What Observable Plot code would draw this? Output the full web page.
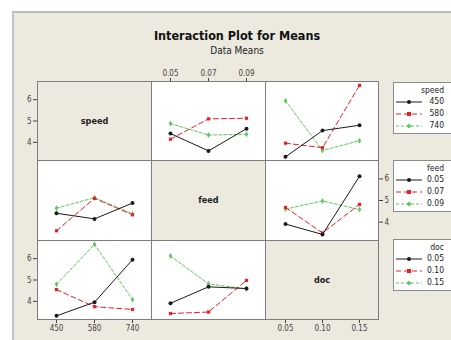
<!DOCTYPE html>
<html><head><meta charset="utf-8">
<script src="https://cdn.jsdelivr.net/npm/d3@7"></script>
<script src="https://cdn.jsdelivr.net/npm/@observablehq/plot@0.6"></script>
<style>
body{margin:0;background:#fff;width:451px;height:340px;overflow:hidden;position:relative;font-family:"DejaVu Sans Condensed","DejaVu Sans",sans-serif;font-stretch:condensed;}
#bg{position:absolute;left:12px;top:11px;right:0;bottom:0;background:#ece9df;border-top:2px solid #b8b8b8;border-left:2px solid #c4c4c4;}
.abs{position:absolute;}
#title{left:237px;top:28px;transform:translateX(-50%);font-weight:bold;font-size:12.5px;color:#111;white-space:nowrap;}
#subtitle{left:237px;top:45px;transform:translateX(-50%);font-size:10px;color:#222;white-space:nowrap;}
.leg{position:absolute;left:393px;width:80px;height:50px;background:#fff;border:1px solid #8c8c8c;font-size:8.5px;color:#222;}
.leg .t{position:absolute;right:30px;top:2px;}
.leg .row{position:absolute;left:0;height:12px;width:80px;}
.leg .row span{position:absolute;right:30px;top:0;}
.leg .row svg{position:absolute;left:2px;top:1px;}
</style></head>
<body>
<div id="bg"></div>
<div id="title" class="abs">Interaction Plot for Means</div>
<div id="subtitle" class="abs">Data Means</div>
<div id="panels"></div>
<div id="legends"></div>
<script>
// factor names and levels
const factors = ["speed", "feed", "doc"];
const speedLevels = ["450", "580", "740"];
const feedLevels = ["0.05", "0.07", "0.09"];
const docLevels = ["0.05", "0.10", "0.15"];
// two-way means: rows = first factor level, columns = second factor level
const speedByFeed = [[4.41, 3.60, 4.64], [4.15, 5.10, 5.13], [4.88, 4.34, 4.38]];
const speedByDoc = [[3.32, 4.55, 4.80], [3.96, 3.75, 6.67], [5.95, 3.62, 4.08]];
const feedByDoc = [[3.91, 3.43, 6.12], [4.68, 3.50, 4.82], [4.60, 4.98, 4.58]];
const yTicks = [4, 5, 6];

const levels = {speed: speedLevels, feed: feedLevels, doc: docLevels};
const tables = {"speed|feed": speedByFeed, "speed|doc": speedByDoc, "feed|doc": feedByDoc};
function mean(a, ia, b, ib) {
  if (tables[a + "|" + b]) return tables[a + "|" + b][ia][ib];
  return tables[b + "|" + a][ib][ia];
}
const colors = ["#1a1a1a", "#ee1c24", "#5cc85c"];
const dashes = ["none", "5,3", "3,2"];
const symbols = ["circle", "square", "diamond"];
const beige = "#ece9df";
const font = '"DejaVu Sans Condensed","DejaVu Sans",sans-serif';

const colX = [37, 151, 265], colW = [114, 114, 113];
const rowY = [81, 160, 240], rowH = [79, 80, 79];

const host = document.getElementById("panels");
factors.forEach((rowF, r) => {
  factors.forEach((colF, c) => {
    const diag = r === c;
    const ml = (c === 0 && r !== 1) ? 30 : 0;
    const mr = (c === 2 && r === 1) ? 30 : 0;
    const mt = (r === 0 && c === 1) ? 22 : 0;
    const mb = (r === 2 && c !== 1) ? 22 : 0;
    const showX = (r === 0 && c === 1) || (r === 2 && c !== 1);
    const showY = (c === 0 && r !== 1) || (c === 2 && r === 1);
    const data = [];
    if (!diag) {
      levels[rowF].forEach((lv, i) => {
        levels[colF].forEach((xv, j) => {
          data.push({line: i, level: lv, x: xv, y: mean(rowF, i, colF, j)});
        });
      });
    }
    const marks = [Plot.frame({fill: diag ? beige : "white", stroke: "#7d7d7d", strokeWidth: 1})];
    if (diag) {
      marks.push(Plot.text([rowF], {text: d => d, frameAnchor: "middle", fontWeight: "bold", fontSize: 9, fill: "#222"}));
    } else {
      [2, 1, 0].forEach(i => {
        const d = data.filter(e => e.line === i);
        marks.push(Plot.line(d, {x: "x", y: "y", stroke: colors[i], strokeWidth: 1, strokeDasharray: dashes[i]}));
        marks.push(Plot.dot(d, {x: "x", y: "y", fill: colors[i], r: i === 0 ? 2 : 1.8, symbol: symbols[i]}));
      });
    }
    const svg = Plot.plot({
      width: colW[c] + ml + mr,
      height: rowH[r] + mt + mb,
      marginLeft: ml, marginRight: mr, marginTop: mt, marginBottom: mb,
      style: {background: "transparent", fontSize: "8px", fontFamily: font, color: "#444", overflow: "visible"},
      x: {type: "point", domain: levels[colF], padding: 0.5, axis: showX ? (r === 0 ? "top" : "bottom") : null, tickSize: 4, tickPadding: 2, label: null},
      y: {domain: [3.15, 6.85], axis: showY ? (c === 0 ? "left" : "right") : null, ticks: yTicks, tickFormat: "d", tickSize: 4, tickPadding: 2, label: null},
      marks
    });
    svg.style.position = "absolute";
    svg.style.left = (colX[c] - ml) + "px";
    svg.style.top = (rowY[r] - mt) + "px";
    host.appendChild(svg);
  });
});

// legends
const legTops = [82, 160, 239];
const legHost = document.getElementById("legends");
factors.forEach((f, k) => {
  const box = document.createElement("div");
  box.className = "leg";
  box.style.top = legTops[k] + "px";
  let html = `<div class="t">${f}</div>`;
  levels[f].forEach((lv, i) => {
    const dash = dashes[i] === "none" ? "" : `stroke-dasharray="${dashes[i]}"`;
    const sym = i === 0 ? `<circle cx="13" cy="5" r="2" fill="${colors[i]}"/>`
      : i === 1 ? `<rect x="11" y="3" width="4" height="4" fill="${colors[i]}"/>`
      : `<path d="M13 2.5 L15.5 5 L13 7.5 L10.5 5 Z" fill="${colors[i]}"/>`;
    html += `<div class="row" style="top:${13 + i * 12}px"><svg width="26" height="10"><line x1="0" y1="5" x2="26" y2="5" stroke="${colors[i]}" ${dash}/>${sym}</svg><span>${lv}</span></div>`;
  });
  box.innerHTML = html;
  legHost.appendChild(box);
});
</script>
</body></html>
